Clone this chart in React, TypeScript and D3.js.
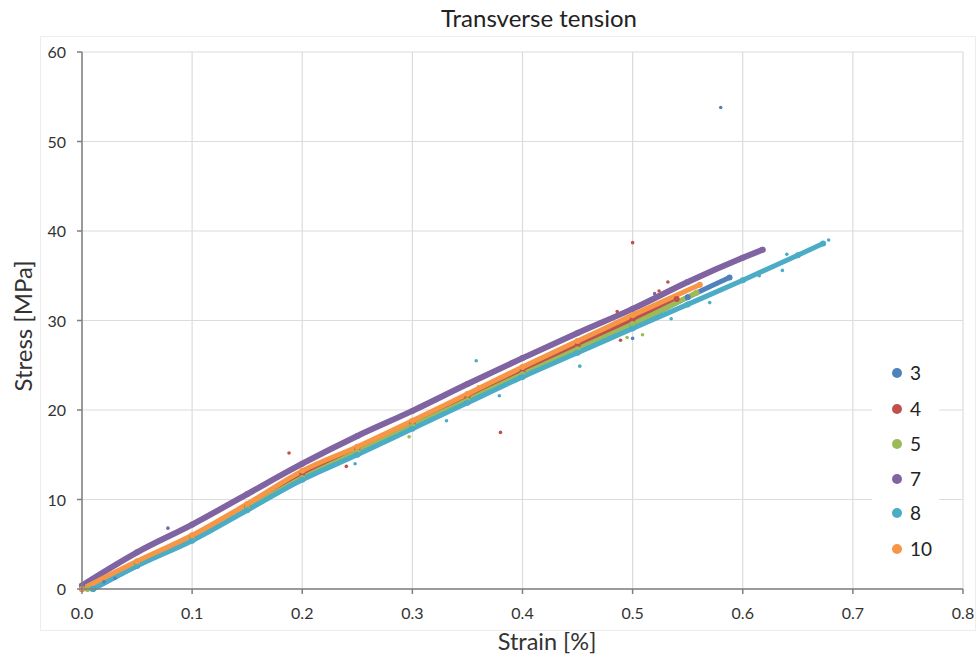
import React from "react";
import * as d3 from "d3";

const strainTicks = [0, 0.1, 0.2, 0.3, 0.4, 0.5, 0.6, 0.7, 0.8];
const stressTicks = [0, 10, 20, 30, 40, 50, 60];
const seriesNames = ["3", "4", "5", "7", "8", "10"];
const seriesColors = ["#4F81BD", "#C0504D", "#9BBB59", "#8064A2", "#4BACC6", "#F79646"];

const s3: [number, number][] = [[0.01,0],[0.05,2.6],[0.1,5.5],[0.15,8.9],[0.2,12.3],[0.25,15.1],[0.3,18.0],[0.35,20.9],[0.4,23.8],[0.45,26.6],[0.5,29.5],[0.55,32.6],[0.588,34.8]];
const s4: [number, number][] = [[0,0],[0.05,3.0],[0.1,5.9],[0.15,9.3],[0.2,12.9],[0.25,15.7],[0.3,18.5],[0.35,21.4],[0.4,24.3],[0.45,27.2],[0.5,30.1],[0.54,32.4]];
const s5: [number, number][] = [[0.005,0],[0.05,2.7],[0.1,5.6],[0.15,9.0],[0.2,12.4],[0.25,15.3],[0.3,18.2],[0.35,21.1],[0.4,24.0],[0.45,26.8],[0.5,29.6],[0.558,33.1]];
const s7: [number, number][] = [[0,0.4],[0.05,4.1],[0.1,7.2],[0.15,10.6],[0.2,14.0],[0.25,17.1],[0.3,19.9],[0.35,22.9],[0.4,25.8],[0.45,28.6],[0.5,31.3],[0.55,34.3],[0.6,37.0],[0.618,37.9]];
const s8: [number, number][] = [[0.01,0],[0.05,2.6],[0.1,5.4],[0.15,8.8],[0.2,12.2],[0.25,15.0],[0.3,17.9],[0.35,20.8],[0.4,23.7],[0.45,26.4],[0.5,29.1],[0.55,31.8],[0.6,34.5],[0.65,37.3],[0.673,38.6]];
const s10: [number, number][] = [[0,0],[0.05,3.1],[0.1,6.0],[0.15,9.5],[0.2,13.2],[0.25,15.9],[0.3,18.8],[0.35,21.8],[0.4,24.8],[0.45,27.7],[0.5,30.6],[0.561,34.0]];

const o3: [number, number][] = [[0.58,53.8],[0.5,28.0],[0.02,0.8],[0.03,1.2]];
const o4: [number, number][] = [[0.5,38.7],[0.38,17.5],[0.188,15.2],[0.532,34.3],[0.524,33.3],[0.489,27.8],[0.486,31.0],[0.24,13.7]];
const o5: [number, number][] = [[0.509,28.4],[0.495,28.1],[0.297,17.0]];
const o7: [number, number][] = [[0.078,6.8],[0.52,33.0]];
const o8: [number, number][] = [[0.358,25.5],[0.452,24.9],[0.57,32.0],[0.64,37.4],[0.636,35.6],[0.615,35.0],[0.535,30.2],[0.331,18.8],[0.248,14.0],[0.379,21.6],[0.678,39.0]];
const o10: [number, number][] = [[0.36,22.6]];

const curves = [s3, s4, s5, s7, s8, s10];
const outliers = [o3, o4, o5, o7, o8, o10];

const FONT = "Lato, 'Open Sans', sans-serif";

export default function App() {
  const W = 978, H = 660;
  const left = 82, right = 963, top = 52, bottom = 589;
  const x = d3.scaleLinear().domain([0, 0.8]).range([left, right]);
  const y = d3.scaleLinear().domain([0, 60]).range([bottom, top]);
  const line = d3.line<[number, number]>().x(d => x(d[0])).y(d => y(d[1])).curve(d3.curveMonotoneX);
  const legendY = [373, 409, 444, 479, 513, 549];

  return (
    <svg width={W} height={H} style={{ position: "absolute", left: 0, top: 0, background: "#fff" }}>
      <rect x={0} y={0} width={W} height={H} fill="#fff" />
      <rect x={40.5} y={36.5} width={935} height={594} fill="none" stroke="#EDEDED" strokeWidth={1} />
      <text x={539} y={27} textAnchor="middle" fontFamily={FONT} fontSize={24} fill="#222">Transverse tension</text>
      {/* gridlines */}
      {stressTicks.map(t => (
        <line key={"gy" + t} x1={left} x2={right} y1={y(t)} y2={y(t)} stroke="#DCDCDC" strokeWidth={1.2} />
      ))}
      {strainTicks.map(t => (
        <line key={"gx" + t} x1={x(t)} x2={x(t)} y1={top} y2={bottom} stroke="#DCDCDC" strokeWidth={1.2} />
      ))}
      {/* series */}
      <g>
        {curves.map((c, i) => (
          <path key={"c" + i} d={line(c) || ""} fill="none" stroke={seriesColors[i]} strokeWidth={i === 3 ? 6 : 5} strokeLinecap="round" strokeLinejoin="round" />
        ))}
        {curves.map((c, i) => c.map((p, j) => (
          <circle key={"p" + i + "-" + j} cx={x(p[0])} cy={y(p[1])} r={3} fill={seriesColors[i]} />
        )))}
        {outliers.map((o, i) => o.map((p, j) => (
          <circle key={"o" + i + "-" + j} cx={x(p[0])} cy={y(p[1])} r={1.8} fill={seriesColors[i]} />
        )))}
      </g>
      {/* axes */}
      <line x1={left} x2={left} y1={top} y2={bottom} stroke="#7F7F7F" strokeWidth={1.5} />
      <line x1={left} x2={right} y1={bottom} y2={bottom} stroke="#7F7F7F" strokeWidth={1.5} />
      {stressTicks.map(t => (
        <g key={"ty" + t}>
          <line x1={left - 5} x2={left} y1={y(t)} y2={y(t)} stroke="#7F7F7F" strokeWidth={1.5} />
          <text x={66} y={y(t) + 6} textAnchor="end" fontFamily={FONT} fontSize={16} fill="#333">{t}</text>
        </g>
      ))}
      {strainTicks.map(t => (
        <g key={"tx" + t}>
          <line x1={x(t)} x2={x(t)} y1={bottom} y2={bottom + 5} stroke="#7F7F7F" strokeWidth={1.5} />
          <text x={x(t)} y={619} textAnchor="middle" fontFamily={FONT} fontSize={16} fill="#333">{t.toFixed(1)}</text>
        </g>
      ))}
      <text x={547} y={650} textAnchor="middle" fontFamily={FONT} fontSize={23.5} fill="#333">Strain [%]</text>
      <text transform="translate(32,326) rotate(-90)" textAnchor="middle" fontFamily={FONT} fontSize={24} fill="#333">Stress [MPa]</text>
      {/* legend */}
      <rect x={872} y={355} width={67} height={212} fill="#fff" />
      {seriesNames.map((n, i) => (
        <g key={"lg" + n}>
          <circle cx={897} cy={legendY[i]} r={5} fill={seriesColors[i]} />
          <text x={910} y={legendY[i] + 6.5} fontFamily={FONT} fontSize={19} fill="#222">{n}</text>
        </g>
      ))}
    </svg>
  );
}
